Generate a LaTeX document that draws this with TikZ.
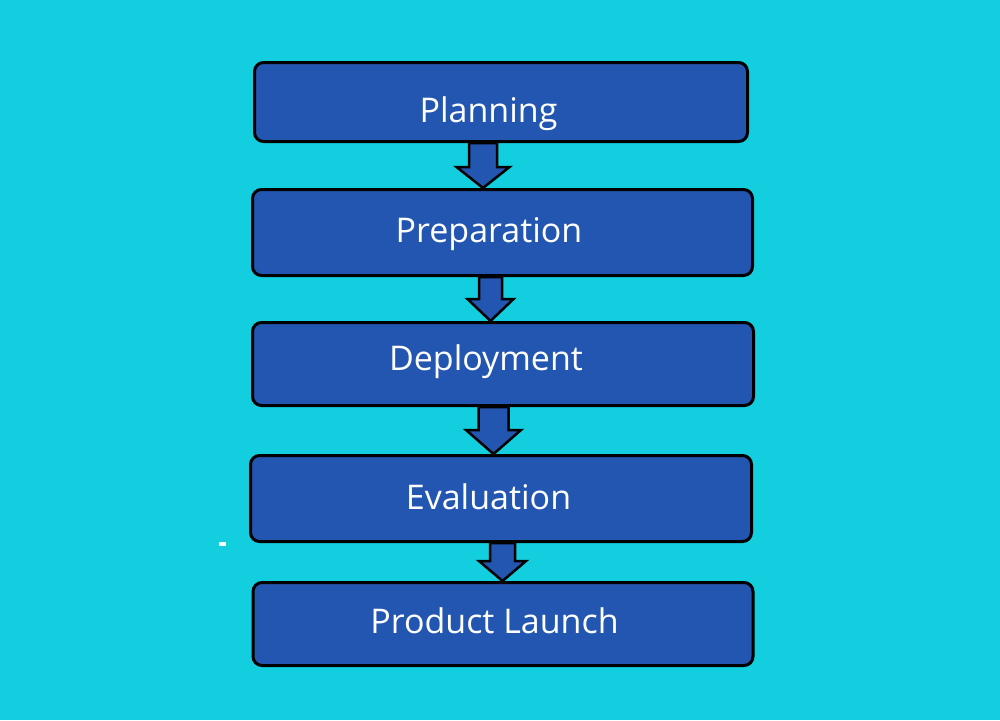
\documentclass[tikz,border=0pt]{standalone}
\usepackage{fontspec}
\setmainfont{Open Sans}
\usepackage{xcolor}
\usetikzlibrary{calc}
\definecolor{bgcyan}{HTML}{13CEDF}
\definecolor{boxblue}{HTML}{2356B0}
\tikzstyle{stage}=[rectangle, rounded corners=9pt, draw=black, line width=3pt, fill=boxblue, inner sep=0pt]
\tikzstyle{label text}=[anchor=base, text=white, inner sep=0pt, font=\fontsize{34}{40}\selectfont]
\tikzstyle{block arrow}=[draw=black, line width=2.5pt, fill=boxblue, line join=miter]
\newcommand{\stage}{\node[stage]}
% #1 from, #2 to, #3 x, #4 shaft half width, #5 head half width, #6 head length
\newcommand{\blockarrow}[6]{
	\path (#1.south) coordinate (top-tmp) (#2.north) coordinate (tip-tmp);
	\draw[block arrow] let \p1=(top-tmp), \p2=(tip-tmp) in
	(#3pt-#4pt,\y1) -- (#3pt-#4pt,\y2+#6pt) -- (#3pt-#5pt,\y2+#6pt) -- (#3pt,\y2)
	-- (#3pt+#5pt,\y2+#6pt) -- (#3pt+#4pt,\y2+#6pt) -- (#3pt+#4pt,\y1) -- cycle;
}

\begin{document}
\begin{tikzpicture}[x=1pt, y=-1pt]
\fill[bgcyan] (0,0) rectangle (1000,720);
\useasboundingbox (0,0) rectangle (1000,720);

\stage (plan) at (501,102) [minimum width=493pt, minimum height=79pt]{};
\stage (prep) at (502.5,232.5) [minimum width=500pt, minimum height=86pt]{};
\stage (depl) at (503,364) [minimum width=501pt, minimum height=83pt]{};
\stage (eval) at (501,498.5) [minimum width=501pt, minimum height=86pt]{};
\stage (launch) at (503,624) [minimum width=500pt, minimum height=83pt]{};

\node[label text] (plan-t) at (488.5,122) {Planning};
\node[label text] (prep-t) at (489,242) {Preparation};
\node[label text] (depl-t) at (486,370) {Deployment};
\node[label text] (eval-t) at (488.5,509) {Evaluation};
\node[label text] (launch-t) at (494.5,633) {Product Launch};

\foreach \from/\to/\cx/\sw/\hw/\hl in {plan/prep/483/14/26.5/21, prep/depl/490.5/11.5/23/22, depl/eval/493.5/15/27.5/24, eval/launch/502.5/12.5/23.5/20}{
	\blockarrow{\from}{\to}{\cx}{\sw}{\hw}{\hl}
	}

\fill[white] (219,542) rectangle (226,546);
\end{tikzpicture}
\end{document}
